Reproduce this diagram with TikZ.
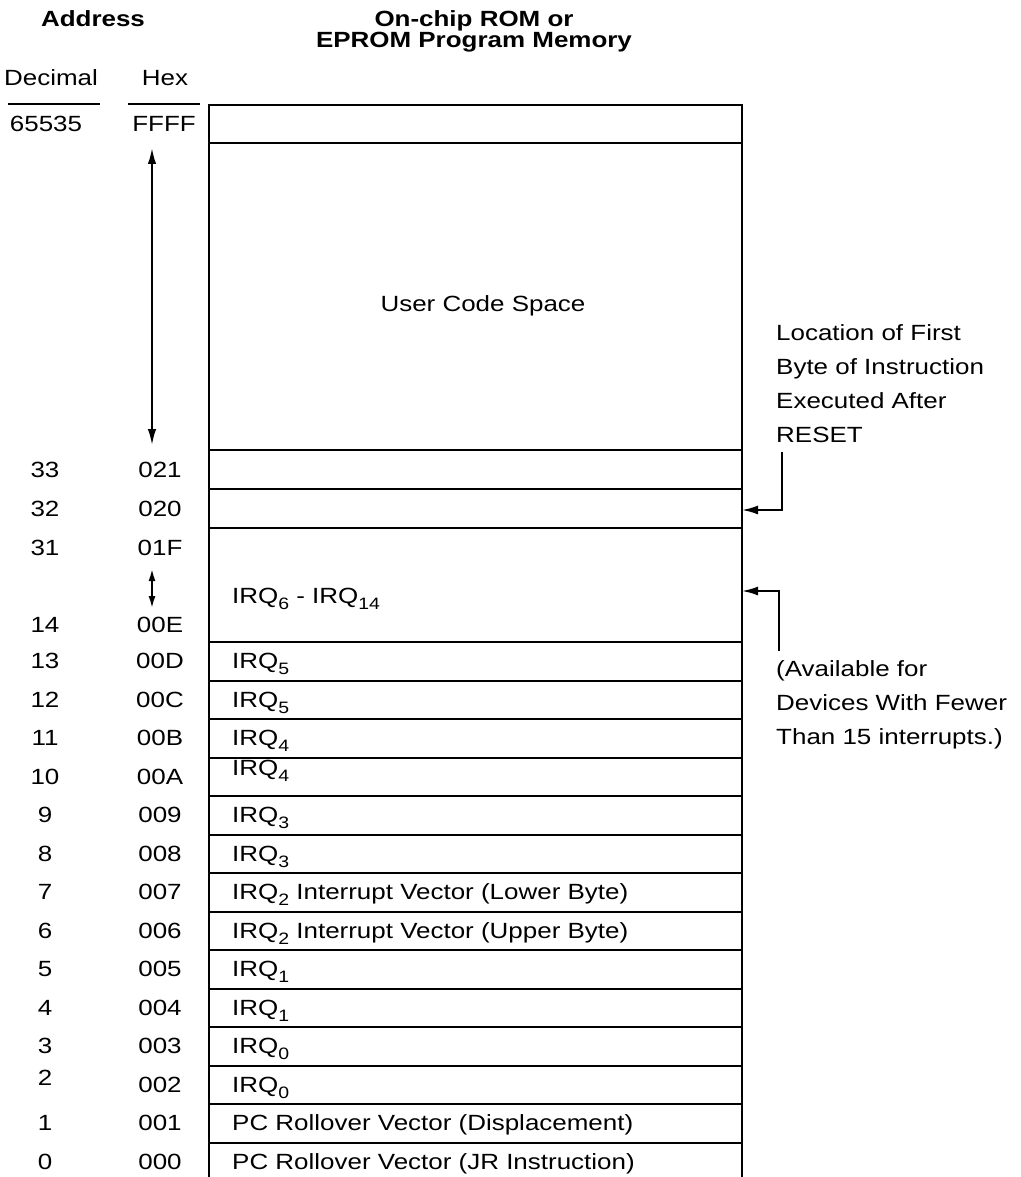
\documentclass[tikz,border=0pt]{standalone}
\usepackage{fontspec}
\setmainfont{Liberation Sans}[FakeStretch=1.18]
\usetikzlibrary{arrows.meta}
\newcommand\irqs[1]{\raisebox{-6pt}{\fontsize{16.5}{16.5}\selectfont #1}}
\begin{document}
\begin{tikzpicture}[x=1pt,y=-1pt,
  txt/.style={font=\fontsize{22}{22}\selectfont, inner sep=0pt, anchor=base},
  ltxt/.style={txt, anchor=base west},
  head/.style={font=\fontsize{22}{22}\selectfont\bfseries, inner sep=0pt, anchor=base},
  note/.style={font=\fontsize{22}{34}\selectfont, inner sep=0pt, anchor=north west, align=left},
  boxline/.style={line width=2pt},
  dbl/.style={line width=2pt, {Latex[length=16pt,width=8.5pt]}-{Latex[length=16pt,width=8.5pt]}},
  sdbl/.style={line width=1.8pt, {Latex[length=12pt,width=7pt]}-{Latex[length=12pt,width=7pt]}},
  conn/.style={line width=2pt, -{Latex[length=16pt,width=9pt]}}]
\useasboundingbox (0,0) rectangle (1020,1177);

% headers
\node[head] (haddr) at (93,27) {Address};
\node[head] (hrom1) at (474,27) {On-chip ROM or};
\node[head] (hrom2) at (474,48) {EPROM Program Memory};
\node[txt] (hdec) at (51,86) {Decimal};
\node[txt] (hhex) at (165,86) {Hex};
\coordinate (decl) at (8,104); \coordinate (decr) at (100,104);
\coordinate (hexl) at (128,104); \coordinate (hexr) at (200,104);
\draw[line width=1.8pt] (decl) -- (decr);
\draw[line width=1.8pt] (hexl) -- (hexr);

% memory box outline
\draw[boxline] (209,1177) -- (209,105) -- (742,105) -- (742,1177);
\foreach \y in {143,450,489,528}
  \draw[boxline] (209,\y) -- (742,\y);
\foreach \i in {0,...,13}
  \draw[boxline] (209,642+38.5*\i) -- (742,642+38.5*\i);

% upper rows
\node[txt] (decFFFF) at (46,132) {65535};
\node[txt] (hexFFFF) at (164,132) {FFFF};
\node[txt] (ucs) at (483,311) {User Code Space};
\node[txt] (dec021) at (45,477.5) {33};
\node[txt] (hex021) at (160,477.5) {021};
\node[txt] (dec020) at (45,516.5) {32};
\node[txt] (hex020) at (160,516.5) {020};
\node[txt] (dec01F) at (45,555) {31};
\node[txt] (hex01F) at (160,555) {01F};
\node[txt] (dec00E) at (45,632) {14};
\node[txt] (hex00E) at (160,632) {00E};
\node[ltxt] (txt00E) at (232,603) {IRQ\irqs{6} - IRQ\irqs{14}};

% arrows in the hex column
\coordinate (a1t) at (152,148);
\coordinate (a1b) at (152,445);
\draw[dbl] (a1t) -- (a1b);
\coordinate (a2t) at (152,569);
\coordinate (a2b) at (152,608);
\draw[sdbl] (a2t) -- (a2b);

% lower rows
\foreach \i/\d/\h/\t/\dd/\td in {
  0/13/00D/{IRQ\irqs{5}}/0/0,
  1/12/00C/{IRQ\irqs{5}}/0/0,
  2/11/00B/{IRQ\irqs{4}}/0/0,
  3/10/00A/{IRQ\irqs{4}}/0/-9,
  4/9/009/{IRQ\irqs{3}}/0/0,
  5/8/008/{IRQ\irqs{3}}/0/0,
  6/7/007/{IRQ\irqs{2} Interrupt Vector (Lower Byte)}/0/0,
  7/6/006/{IRQ\irqs{2} Interrupt Vector (Upper Byte)}/0/0,
  8/5/005/{IRQ\irqs{1}}/0/0,
  9/4/004/{IRQ\irqs{1}}/0/0,
  10/3/003/{IRQ\irqs{0}}/0/0,
  11/2/002/{IRQ\irqs{0}}/-7/0,
  12/1/001/{PC Rollover Vector (Displacement)}/0/0,
  13/0/000/{PC Rollover Vector (JR Instruction)}/0/0}{
  \pgfmathsetmacro\yb{642+38.5*\i+19.25+7.5}
  \node[txt] (dec\h) at (45,\yb+\dd) {\d};
  \node[txt] (hex\h) at (160,\yb) {\h};
  \node[ltxt] (txt\h) at (232,\yb+\td) {\t};
}

% notes on the right
\node[note] (loc) at (776,324) {Location of First\\Byte of Instruction\\Executed After\\RESET};
\node[note] (avail) at (776,660) {(Available for\\Devices With Fewer\\Than 15 interrupts.)};

\coordinate (c1) at (782,452);
\coordinate (p020) at (742,510);
\draw[conn] (c1) |- (p020);
\coordinate (c2) at (779,651);
\coordinate (p01F) at (742,591);
\draw[conn] (c2) |- (p01F);
\end{tikzpicture}
\end{document}
